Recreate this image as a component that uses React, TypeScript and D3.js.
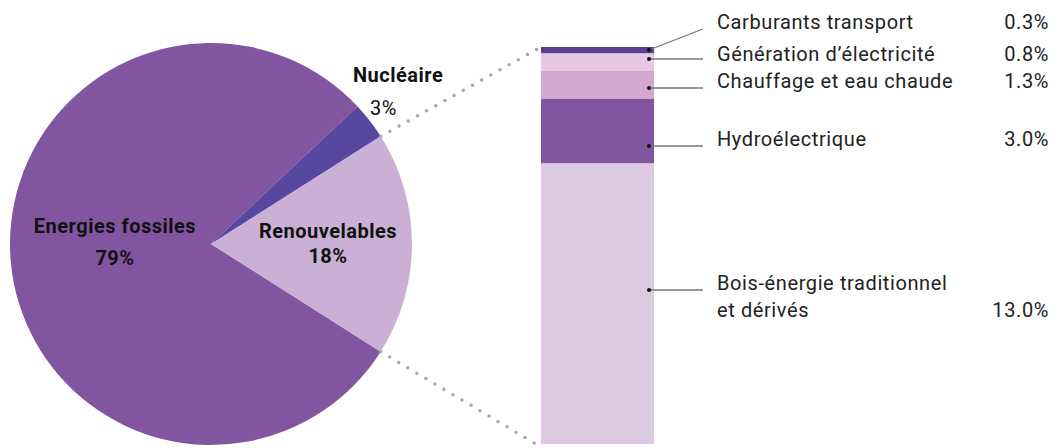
import React from "react";
import * as d3 from "d3";

const pieCategories = ["Energies fossiles", "Nucléaire", "Renouvelables"];
const pieValues = [79, 3, 18];
const pieColors = ["#8155a0", "#5747a0", "#cbb0d6"];

const barCategories = [
  ["Carburants transport"],
  ["Génération d\u2019électricité"],
  ["Chauffage et eau chaude"],
  ["Hydroélectrique"],
  ["Bois-énergie traditionnel", "et dérivés"],
];
const barValues = [0.3, 0.8, 1.3, 3.0, 13.0];
const barLabels = ["0.3%", "0.8%", "1.3%", "3.0%", "13.0%"];
const barColors = ["#5b3f92", "#e6c8e2", "#d5a8d2", "#8155a0", "#ddc9e1"];

export default function App() {
  const W = 1062;
  const H = 448;
  const cx = 211;
  const cy = 244;
  const R = 201;

  // pie: renouvelables centered on the horizontal (pointing right)
  const renShare = pieValues[2] / d3.sum(pieValues);
  const start = Math.PI / 2 + renShare * Math.PI;
  const pie = d3
    .pie<number>()
    .sort(null)
    .value((d) => d)
    .startAngle(start)
    .endAngle(start + 2 * Math.PI);
  const arcs = pie(pieValues);
  const arcGen = d3.arc<d3.PieArcDatum<number>>().innerRadius(0).outerRadius(R);

  // bar
  const total = d3.sum(barValues);
  const y = d3.scaleLinear().domain([0, total]).range([47, 444]);
  const x0 = 541;
  const x1 = 654;
  const cum = d3.cumsum(barValues);
  const segs = barValues.map((v, i) => ({
    v,
    top: y(cum[i] - v),
    bottom: y(cum[i]),
  }));

  const labelBaselines = [29, 61, 88, 146, 290];
  const lineEndY = [29, 59, 88, 146, 290];
  const textX = 717;
  const pctX = 1049;

  const renArc = arcs[2];
  const pTop: [number, number] = [
    cx + R * Math.sin(renArc.startAngle),
    cy - R * Math.cos(renArc.startAngle),
  ];
  const pBot: [number, number] = [
    cx + R * Math.sin(renArc.endAngle),
    cy - R * Math.cos(renArc.endAngle),
  ];

  const font = "Roboto, 'DejaVu Sans', sans-serif";

  return (
    <div style={{ position: "absolute", left: 0, top: 0 }}>
      <svg width={W} height={H} style={{ display: "block", background: "#fff" }}>
        <g transform={`translate(${cx},${cy})`}>
          {arcs.map((a, i) => (
            <path key={i} d={arcGen(a) || ""} fill={pieColors[i]} />
          ))}
        </g>
        {/* dotted connectors */}
        <line
          x1={pTop[0]}
          y1={pTop[1]}
          x2={x0}
          y2={y(0)}
          stroke="#a8a8a8"
          strokeWidth={3.5}
          strokeLinecap="round"
          strokeDasharray="0 10.5"
        />
        <line
          x1={pBot[0]}
          y1={pBot[1]}
          x2={x0}
          y2={y(total) + 3}
          stroke="#a8a8a8"
          strokeWidth={3.5}
          strokeLinecap="round"
          strokeDasharray="0 10.5"
        />
        {/* pie labels */}
        <g fontFamily={font} fill="#111" letterSpacing={0.5}>
          <text x={115} y={233} textAnchor="middle" fontWeight={700} fontSize={20}>
            {pieCategories[0]}
          </text>
          <text x={115} y={265} textAnchor="middle" fontWeight={700} fontSize={20}>
            {pieValues[0]}%
          </text>
          <text x={328} y={238} textAnchor="middle" fontWeight={700} fontSize={20}>
            {pieCategories[2]}
          </text>
          <text x={328} y={263} textAnchor="middle" fontWeight={700} fontSize={20}>
            {pieValues[2]}%
          </text>
          <text x={353} y={82} fontWeight={700} fontSize={20}>
            {pieCategories[1]}
          </text>
          <text x={370} y={115} fontWeight={400} fontSize={20}>
            {pieValues[1]}%
          </text>
        </g>
        {/* stacked bar */}
        {segs.map((s, i) => (
          <rect
            key={i}
            x={x0}
            y={s.top}
            width={x1 - x0}
            height={s.bottom - s.top}
            fill={barColors[i]}
          />
        ))}
        {segs.map((s, i) => {
          const dy = Math.max(s.top + 3, Math.min(s.bottom - 3, lineEndY[i]));
          return (
            <g key={i}>
              <line x1={649} y1={dy} x2={703} y2={lineEndY[i]} stroke="#777" strokeWidth={1.3} />
              <circle cx={649} cy={dy} r={2} fill="#111" />
            </g>
          );
        })}
        <g fontFamily={font} fontSize={20} fill="#222" letterSpacing={0.6}>
          {barCategories.map((lines, i) => (
            <text key={i} x={textX} y={labelBaselines[i]}>
              {lines.map((l, j) => (
                <tspan key={j} x={textX} dy={j === 0 ? 0 : 27}>
                  {l}
                </tspan>
              ))}
            </text>
          ))}
          {barLabels.map((l, i) => (
            <text
              key={i}
              x={pctX}
              y={labelBaselines[i] + (barCategories[i].length - 1) * 27}
              textAnchor="end"
            >
              {l}
            </text>
          ))}
        </g>
      </svg>
    </div>
  );
}
